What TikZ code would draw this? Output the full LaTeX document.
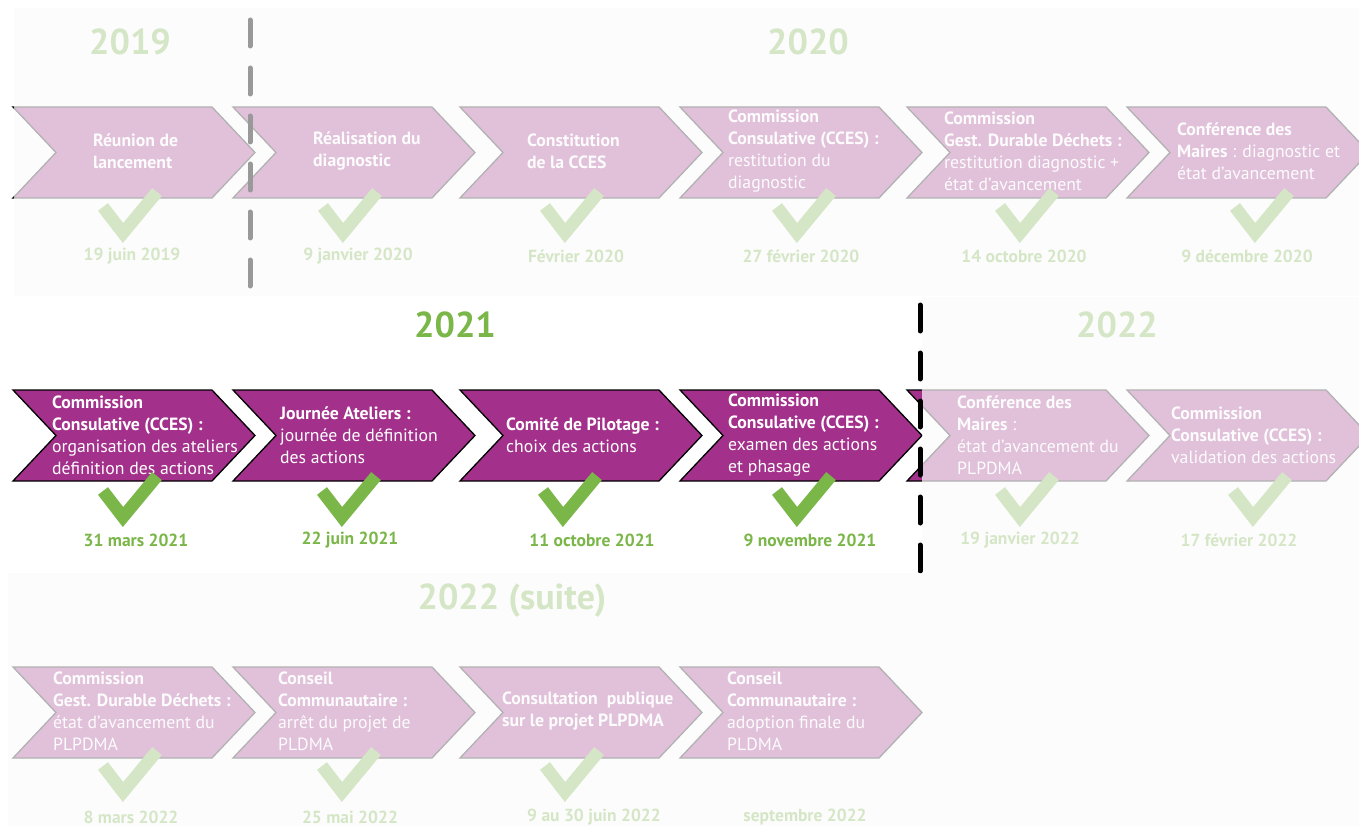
\documentclass[tikz,border=0pt]{standalone}
\usepackage{fontspec}
\setmainfont{PT Sans}
\usepackage{tikz}
\definecolor{prune}{HTML}{A3308B}
\definecolor{vert}{HTML}{7AB648}
\definecolor{voile}{HTML}{FBFBFB}
\tikzstyle{chevron} = [draw=black, fill=prune, line width=1.3pt, line join=miter]
\tikzstyle{etape} = [anchor=west, inner sep=0pt, align=left, text=white, font={\fontsize{17.7}{22}\selectfont}]
\tikzstyle{jour} = [text=vert, inner sep=0pt, font={\fontsize{17.5}{20}\selectfont\bfseries}]
\tikzstyle{annee} = [text=vert, inner sep=0pt, font={\fontsize{36}{40}\selectfont\bfseries}]
\tikzstyle{coche} = [draw=vert, line width=12.5pt]
\tikzstyle{voilage} = [fill=voile, fill opacity=0.71, draw=none]
\tikzstyle{annuel} = [line width=5pt, line cap=round, dash pattern=on 26pt off 22pt]
\newcommand{\chevron}[2]{\draw[chevron] (#1,#2) -- ++(199,0) -- ++(43,45.5) -- ++(-43,45.5) -- ++(-199,0) -- ++(43,-45.5) -- cycle;}
\newcommand{\coche}[2]{\draw[coche] (#1-20,#2-26) -- (#1,#2) -- (#1+34,#2-41);}

\begin{document}
\begin{tikzpicture}[x=1pt,y=-1pt]
        \useasboundingbox[fill=white] (0,0) rectangle (1359,826);
        % ligne 2019-2020
        \foreach \x in {13,233,460,680,907,1127} \chevron{\x}{107};
        \node[etape](t11) at (93,151){\textbf{Réunion de}\\\textbf{lancement}};
        \node[etape](t12) at (313,151){\textbf{Réalisation du}\\\textbf{diagnostic}};
        \node[etape](t13) at (527,151){\textbf{Constitution}\\\textbf{de la CCES}};
        \node[etape](t14) at (728,151){\textbf{Commission}\\\textbf{Consulative (CCES) :}\\restitution du\\diagnostic};
        \node[etape](t15) at (944,151){\textbf{Commission}\\\textbf{Gest. Durable Déchets :}\\restitution diagnostic +\\état d'avancement};
        \node[etape](t16) at (1177,151){\textbf{Conférence des}\\\textbf{Maires} : diagnostic et\\état d'avancement};
        \foreach \x in {123,343,565,797,1020,1255} \coche{\x}{233};
        \node[jour](d11) at (132,256){19 juin 2019};
        \node[jour](d12) at (358,256){9 janvier 2020};
        \node[jour](d13) at (576,256){Février 2020};
        \node[jour](d14) at (801,256){27 février 2020};
        \node[jour](d15) at (1024,256){14 octobre 2020};
        \node[jour](d16) at (1247,256){9 décembre 2020};
        \node[annee](a19) at (130,42){2019};
        \node[annee](a20) at (808,42){2020};
        \fill[voilage] (14,8) rectangle (1359,296);
        \draw[annuel,color=black!40] (250,20) -- (250,292);
        % ligne 2021-2022
        \foreach \x in {13,233,460,680,907,1127} \chevron{\x}{390};
        \node[etape](t21) at (52,435){\textbf{Commission}\\\textbf{Consulative (CCES) :}\\organisation des ateliers\\définition des actions};
        \node[etape](t22) at (280,435){\textbf{Journée Ateliers :}\\journée de définition\\des actions};
        \node[etape](t23) at (506,435){\textbf{Comité de Pilotage :}\\choix des actions};
        \node[etape](t24) at (728,435){\textbf{Commission}\\\textbf{Consulative (CCES) :}\\examen des actions\\et phasage};
        \node[etape](t25) at (957,435){\textbf{Conférence des}\\\textbf{Maires} :\\état d'avancement du\\PLPDMA};
        \node[etape](t26) at (1171,435){\textbf{Commission}\\\textbf{Consulative (CCES) :}\\validation des actions};
        \foreach \x in {123,342,563,797,1020,1253} \coche{\x}{517};
        \node[jour](d21) at (136,540){31 mars 2021};
        \node[jour](d22) at (350,540){22 juin 2021};
        \node[jour](d23) at (592,540){11 octobre 2021};
        \node[jour](d24) at (810,540){9 novembre 2021};
        \node[jour](d25) at (1020,540){19 janvier 2022};
        \node[jour](d26) at (1239,540){17 février 2022};
        \node[annee](a21) at (455,325){2021};
        \node[annee](a22) at (1117,325){2022};
        \fill[voilage] (922,297) rectangle (1359,573);
        \draw[annuel,color=black] (920,305) -- (920,577);
        % ligne 2022 (suite)
        \foreach \x in {13,233,460,680} \chevron{\x}{667};
        \node[etape](t31) at (53,711){\textbf{Commission}\\\textbf{Gest. Durable Déchets :}\\état d'avancement du\\PLPDMA};
        \node[etape](t32) at (278,711){\textbf{Conseil}\\\textbf{Communautaire :}\\arrêt du projet de\\PLDMA};
        \node[etape](t33) at (502,711){\textbf{Consultation\ \ publique}\\\textbf{sur le projet PLPDMA}};
        \node[etape](t34) at (727,711){\textbf{Conseil}\\\textbf{Communautaire :}\\adoption finale du\\PLDMA};
        \foreach \x in {123,342,565} \coche{\x}{792};
        \node[jour](d31) at (131,817){8 mars 2022};
        \node[jour](d32) at (350,817){25 mai 2022};
        \node[jour](d33) at (594,817){9 au 30 juin 2022};
        \node[jour](d34) at (805,817){septembre 2022};
        \node[annee](a23) at (512,601){2022 (suite)};
        \fill[voilage] (8,573) rectangle (1359,826);
      \end{tikzpicture}
\end{document}
